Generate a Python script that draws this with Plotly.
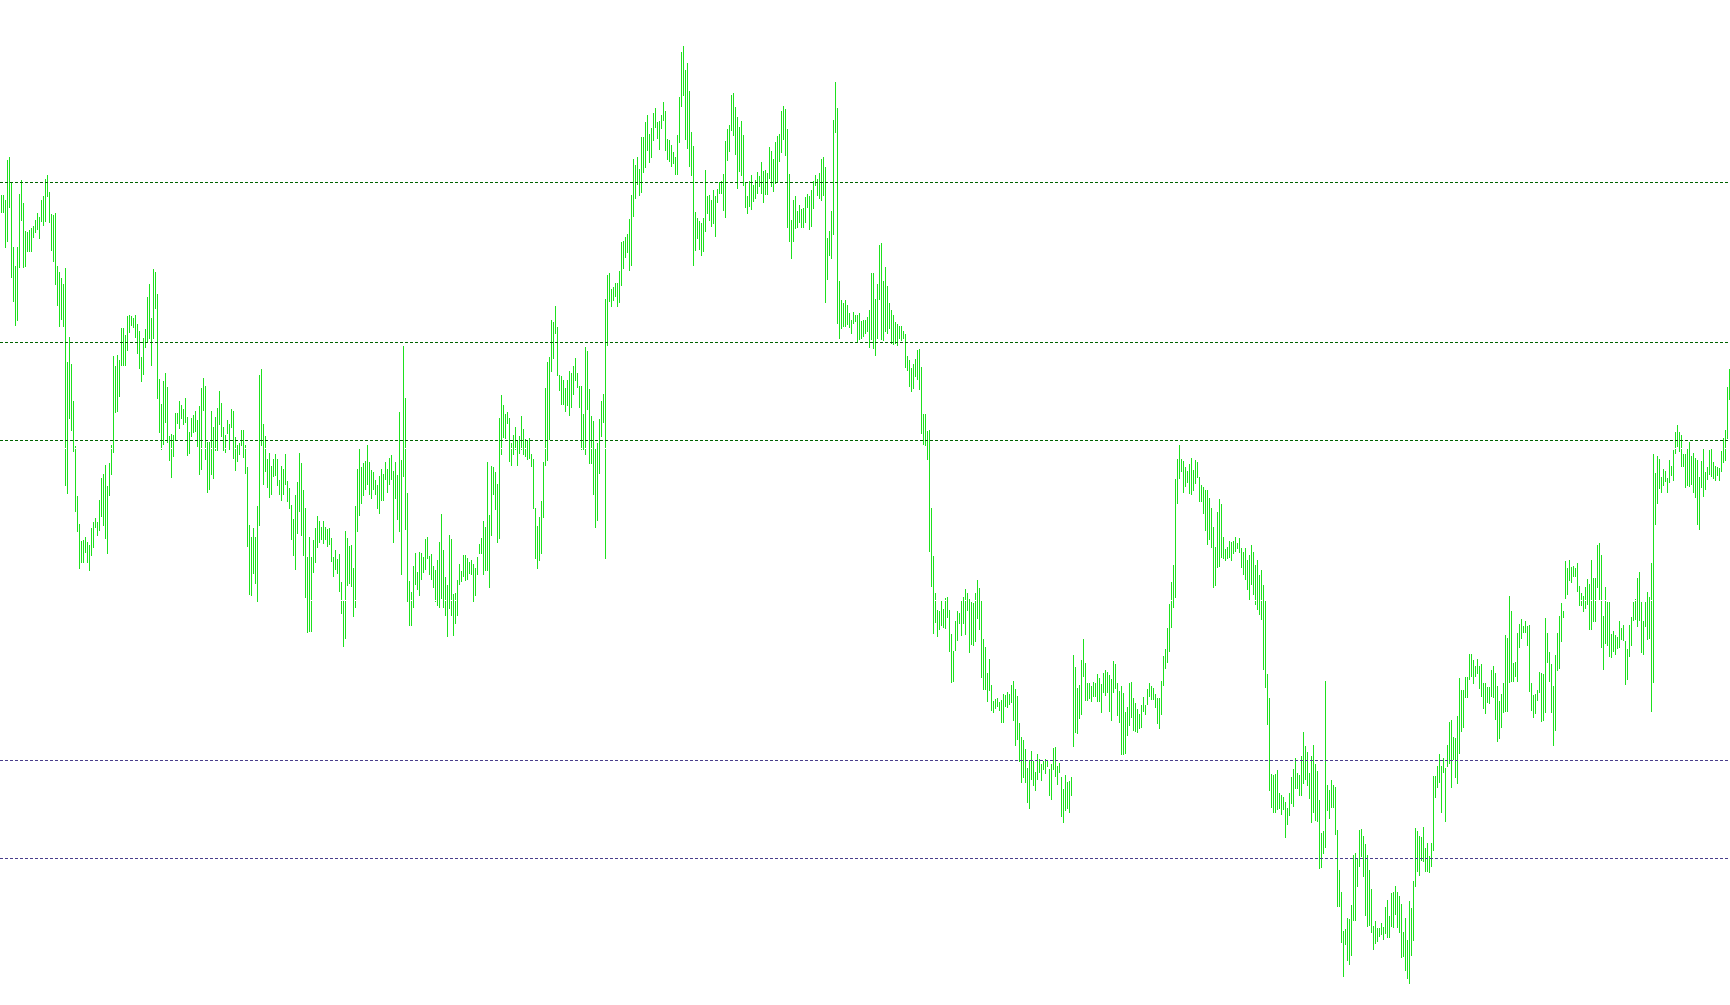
import plotly.graph_objects as go

# Bar highs / lows in price points
HIGH = [
    805,805,800,840,843,818,753,734,753,806, 820,797,769,768,770,772,774,780,787,783,
    800,804,821,825,808,786,785,787,734,728, 722,716,732,638,663,636,599,554,504,476,
    459,460,463,458,455,472,478,482,478,500, 522,526,535,514,537,555,644,634,645,640,
    672,672,665,684,685,684,682,685,676,669, 643,662,671,703,716,682,731,728,706,621,
    596,619,627,613,564,566,565,587,587,599, 595,591,602,583,568,582,585,589,580,594,
    612,622,614,558,558,589,573,583,592,609, 597,573,565,580,576,591,589,563,555,557,
    570,570,555,533,475,
    463,472,463,494,625,631,576,564,541,547, 534,541,546,541,520,534,531,546,519,512,
    495,481,505,518,547,537,510,492,443,463, 443,460,472,484,479,473,479,473,471,472,
    462,443,450,441,446,418,399,469,462,454, 455,432,494,531,551,533,537,539,555,538,
    530,528,520,515,524,531,526,538,531,542, 545,529,538,525,588,540,654,602,507,419,
    408,434,447,428,448,447,443,461,463,444, 446,434,430,440,458,486,450,423,415,465,
    461,406,407,420,436,429,445,445,442,438, 440,436,432,443,456,462,479,473,538,485,
    534,533,528,516,
    582,605,595,586,588,582,557,565,573,560, 564,584,571,561,560,562,546,541,492,474,
    483,499,538,612,638,643,680,678,694,673, 625,624,620,612,620,629,627,634,642,627,
    614,614,586,653,649,611,584,579,551,557, 581,599,606,701,725,727,711,713,717,717,
    729,758,759,763,766,781,805,841,835,843, 831,863,863,878,885,866,872,887,892,878,
    879,885,898,889,861,860,855,848,843,865, 903,948,954,930,937,909,868,854,788,782,
    779,777,782,830,804,805,800,810,804,811, 818,819,826,859,871,875,905,907,893,883,
    873,879,865,818,
    804,819,825,815,820,828,824,838,829,830, 827,853,849,841,858,864,866,889,894,891,
    871,826,780,800,804,789,795,791,792,803, 806,804,810,819,825,821,827,841,843,833,
    762,769,789,880,918,892,719,700,697,700, 695,687,680,688,685,685,687,679,680,680,
    683,690,727,727,701,716,755,757,719,733, 714,697,690,685,678,676,674,674,669,666,
    644,640,632,636,641,650,651,633,586,586, 569,570,492,444,407,390,389,399,391,402,
    403,390,366,349,379,389,387,399,403,411, 407,401,398,397,407,420,412,400,361,353,
    327,341,315,299,
    301,302,298,300,306,305,308,306,315,319, 311,304,277,263,260,251,232,240,249,239,
    228,246,241,236,239,241,239,231,236,252, 253,234,237,223,211,225,218,219,223,345,
    333,312,315,340,361,337,317,317,314,318, 317,326,322,316,327,330,328,325,321,339,
    336,317,309,314,307,288,293,317,318,302, 297,291,286,295,303,295,311,317,314,312,
    306,302,302,319,344,351,372,396,418,435, 521,541,555,541,539,533,529,536,542,530,
    540,538,523,515,513,510,510,502,492,473, 453,488,501,496,463,451,453,459,458,459,
    463,457,462,452,
    448,452,440,445,455,448,435,440,425,430,415,
    400,326,302,226,225,226,230,207,205,203, 198,192,207,223,231,242,227,225,244,268,
    254,248,227,244,255,236,229,200,167,169, 319,215,210,220,215,213,170,130,108,69,
    71,82,81,95,145,147,142,170,171,164, 156,145,130,111,74,79,72,72,77,73,
    93,100,84,107,108,114,108,104,96,68, 82,60,99,92,119,172,169,164,163,173,
    152,157,144,157,224,224,234,246,234,242, 232,255,278,280,263,262,284,322,310,310,
    323,323,346,346,340,334,341,334,336,317, 317,313,
    313,330,334,327,314,299,306,317,365,362, 404,389,337,338,367,376,381,374,379,374,
    375,317,305,306,310,328,327,326,382,367, 348,336,314,345,367,384,397,389,439,432,
    440,433,434,432,437,414,407,404,413,421, 416,440,422,422,455,457,445,384,413,398,
    398,366,369,365,363,379,372,375,359,351, 375,383,398,401,422,428,398,379,398,408,
    403,437,546,527,544,541,523,531,529,522, 540,534,550,568,575,568,565,546,546,551,
    558,544,547,542,540,523,539,551,528,533, 550,551,538,534,533,532,549,562,570,613,
    631,
]

LOW = [
    787,787,752,758,792,722,698,674,679,732, 779,732,733,748,748,748,762,767,770,761,
    778,774,778,803,777,749,738,715,694,673, 680,673,514,506,581,569,548,488,468,431,
    437,437,447,437,429,444,452,472,464,469, 483,474,461,446,504,525,547,587,588,603,
    634,634,634,649,667,674,672,662,646,631, 618,625,652,657,661,634,661,691,601,567,
    550,555,577,557,539,522,543,560,576,571, 581,575,577,544,546,563,567,568,553,525,
    530,589,540,507,510,525,521,549,549,575, 563,549,547,566,550,572,541,529,538,545,
    554,542,526,453,405,
    404,426,416,398,474,554,515,528,512,502, 505,523,524,514,505,499,505,515,498,491,
    460,444,430,466,488,464,444,402,367,368, 368,427,437,452,457,460,456,460,453,455,
    438,423,430,426,408,386,353,361,414,416, 413,383,392,468,484,496,504,510,515,505,
    501,510,505,491,486,499,499,520,507,515, 520,457,501,480,468,425,523,470,398,374,
    374,392,415,410,404,420,427,430,441,425, 420,412,398,394,392,401,392,384,363,391,
    384,364,376,384,415,418,423,419,420,426, 425,398,404,425,446,446,425,429,429,412,
    464,505,490,457,
    461,545,562,561,576,538,534,545,550,534, 546,550,545,543,540,541,533,491,441,431,
    439,446,482,534,539,560,628,641,666,624, 609,595,595,588,594,584,592,605,619,612,
    592,550,550,545,590,536,536,505,472,479, 526,563,577,441,654,698,693,699,703,693,
    697,714,731,742,747,729,734,783,801,815, 804,807,827,832,849,837,842,859,872,861,
    850,871,879,849,840,838,833,836,825,825, 857,893,904,860,851,833,824,734,749,761,
    750,744,748,768,786,779,773,776,763,797, 806,806,789,782,839,848,869,864,845,811,
    828,824,814,792,
    786,793,790,798,801,806,813,806,797,805, 805,821,813,808,816,818,838,847,860,844,
    772,758,741,758,771,772,777,772,772,777, 792,770,773,791,814,804,801,799,804,697,
    720,744,741,765,867,676,661,671,673,673, 675,672,666,676,678,658,660,661,663,666,
    668,652,660,651,644,661,700,660,659,668, 666,671,656,655,656,654,661,659,661,632,
    629,613,608,611,623,620,610,566,555,554, 540,448,413,366,377,363,370,374,372,371,
    382,348,317,318,349,359,376,364,376,365, 389,347,355,354,358,381,370,322,310,310,
    298,309,289,287,
    291,293,289,277,277,293,292,295,297,279, 254,260,238,217,222,217,197,191,220,214,
    209,220,227,219,230,226,233,204,200,230, 223,215,227,183,177,189,191,187,204,253,
    267,266,281,285,323,299,299,301,298,303, 303,298,298,287,307,304,307,288,279,307,
    311,284,277,245,245,246,264,274,282,269, 268,267,271,272,288,285,295,303,300,300,
    292,276,271,285,314,331,337,348,372,392, 402,496,521,528,507,513,517,506,505,509,
    516,522,498,498,486,469,455,460,452,412, 414,432,433,442,441,439,441,442,439,446,
    448,451,447,432,
    425,420,410,400,415,405,395,390,385,380,330,
    312,275,209,192,187,187,190,191,185,190, 162,175,184,196,193,211,211,204,204,216,
    220,214,201,177,187,179,178,131,132,146, 152,189,181,192,192,165,93,93,57,23,
    55,39,35,44,79,79,113,133,143,123, 84,73,74,67,50,56,58,63,65,60,
    66,62,62,73,72,85,72,67,42,43, 29,21,16,44,59,113,128,124,139,138,
    128,128,127,133,149,202,212,217,187,227, 178,233,236,212,240,222,216,246,268,272,
    302,302,320,323,316,323,326,311,303,291, 286,297,
    296,303,302,280,258,261,272,287,288,288, 317,318,318,323,318,352,361,367,367,354,
    308,289,282,286,299,307,278,279,287,337, 318,287,254,269,329,331,358,382,401,405,
    419,417,423,423,408,394,394,388,391,395, 370,370,378,378,412,400,352,330,356,354,
    343,342,348,345,351,352,360,359,315,320, 343,354,379,380,373,379,347,345,373,360,
    361,288,317,475,496,511,507,514,518,507, 517,524,519,546,553,548,533,533,512,514,
    513,515,507,502,475,470,512,503,510,520, 525,523,521,519,524,519,528,537,539,561,
    600,
]

GREEN_LEVELS = [817.5, 657.5, 559.5]
BLUE_LEVELS = [239.5, 141.5]
HIDDEN_LEVELS = [551.5, 399.5]

BAR_COLOR = "#1EE01E"

n = min(len(HIGH), len(LOW))
xs, ys = [], []
for i in range(n):
    xs += [i, i, None]
    ys += [LOW[i], HIGH[i], None]

fig = go.Figure(
    go.Scatter(
        x=xs, y=ys, mode="lines",
        line=dict(color=BAR_COLOR, width=1),
        hoverinfo="skip", showlegend=False,
    )
)

for lv in GREEN_LEVELS:
    fig.add_hline(y=lv, line=dict(color="#006400", width=1, dash="3px,2px"), layer="above")
for lv in BLUE_LEVELS:
    fig.add_hline(y=lv, line=dict(color="#483D8B", width=1, dash="3px,2px"), layer="above")
for lv in HIDDEN_LEVELS:
    fig.add_hline(y=lv, line=dict(color="#FFFFFF", width=1, dash="2px,3px"), layer="above")

fig.update_layout(
    width=1730, height=1005,
    margin=dict(l=0, r=0, t=0, b=0),
    paper_bgcolor="white", plot_bgcolor="white",
    showlegend=False,
    xaxis=dict(range=[-0.75, n - 0.75], visible=False, showgrid=False, zeroline=False),
    yaxis=dict(range=[-5, 1000], visible=False, showgrid=False, zeroline=False),
)

fig.write_html(
    "out.html",
    config={"displayModeBar": False},
    post_script=(
        "document.body.style.margin='0';document.body.style.overflow='hidden';"
        "var s=document.createElement('style');"
        "s.innerHTML='.scatterlayer path,.shapelayer path{shape-rendering:crispEdges !important;}';"
        "document.head.appendChild(s);"
    ),
)
